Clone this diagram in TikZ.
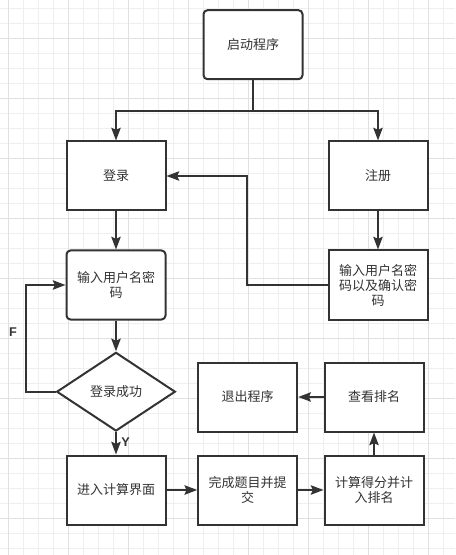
\documentclass[tikz,border=0pt]{standalone}
\usepackage{fontspec}
\newfontfamily\cjk{Noto Sans CJK SC}
\newfontfamily\lblfont{Liberation Sans}
\usetikzlibrary{shapes.geometric,arrows.meta,calc}
\definecolor{ln}{HTML}{333333}
\definecolor{gminor}{HTML}{EFEFEF}
\definecolor{gmajor}{HTML}{E0E0E0}
\begin{document}
\begin{tikzpicture}[x=0.75pt,y=-0.75pt,
  txt/.style={font=\cjk\fontsize{9.75}{11.25}\selectfont,text=ln},
  box/.style={txt,draw=ln,line width=1.5pt,fill=white,minimum width=74.25pt,minimum height=51.75pt,align=center,inner sep=2pt},
  rbox/.style={box,rounded corners=3pt},
  dec/.style={txt,draw=ln,line width=1.5pt,fill=white,diamond,aspect=1.5,minimum width=89pt,minimum height=59pt,inner sep=0pt},
  conn/.style={draw=ln,line width=1.5pt},
  arr/.style={conn,-{Stealth[length=9.5pt,width=7pt,inset=1.5pt]}},
  lbl/.style={font=\lblfont\bfseries\fontsize{9.5}{10}\selectfont,text=ln,inner sep=0pt}]
\useasboundingbox (0,0) rectangle (455,555);
\fill[white] (0,0) rectangle (455,555);
% grid
\foreach \i in {0,...,29} \draw[gminor,line width=0.75pt] (8.33+15*\i,0) -- (8.33+15*\i,555);
\foreach \i in {0,...,36} \draw[gminor,line width=0.75pt] (0,8.33+15*\i) -- (455,8.33+15*\i);
\foreach \i in {0,...,7} \draw[gmajor,line width=0.75pt] (8.33+60*\i,0) -- (8.33+60*\i,555);
\foreach \i in {0,...,8} \draw[gmajor,line width=0.75pt] (0,38.33+60*\i) -- (455,38.33+60*\i);
% nodes
\node[rbox] (start) at (253,44.7) {启动程序};
\node[box] (login) at (116,176) {登录};
\node[box] (reg) at (378,176) {注册};
\node[rbox] (input) at (116,285) {输入用户名密\\码};
\node[box] (input2) at (378,285) {输入用户名密\\码以及确认密\\码};
\node[dec] (ok) at (116,391.7) {登录成功};
\node[box] (enter) at (116,490) {进入计算界面};
\node[box] (finish) at (247.7,490) {完成题目并提\\交};
\node[box] (calc) at (374,490) {计算得分并计\\入排名};
\node[box] (quit) at (247.7,397) {退出程序};
\node[box] (rank) at (374,397) {查看排名};
% connectors
\coordinate (split) at (253,110.7);
\draw[conn] (start.south) -- (split);
\draw[arr] (split) -| (login.north);
\draw[arr] (split) -| (reg.north);
\draw[arr] (login.south) -- (input.north);
\draw[arr] (reg.south) -- (input2.north);
\coordinate (back) at (247.3,285);
\draw[arr] (input2.west) -- (back) |- (login.east);
\draw[arr] (input.south) -- (ok.north);
\coordinate (floop) at (26,391.7);
\draw[arr] (ok.west) -- (floop) |- (input.west);
\node[lbl] (flab) at (13,332) {F};
\draw[arr] (ok.south) -- (enter.north);
\node[lbl] (ylab) at (125.5,442) {Y};
\draw[arr] (enter.east) -- (finish.west);
\draw[arr] (finish.east) -- (calc.west);
\draw[arr] (calc.north) -- (rank.south);
\draw[arr] (rank.west) -- (quit.east);
\end{tikzpicture}
\end{document}
